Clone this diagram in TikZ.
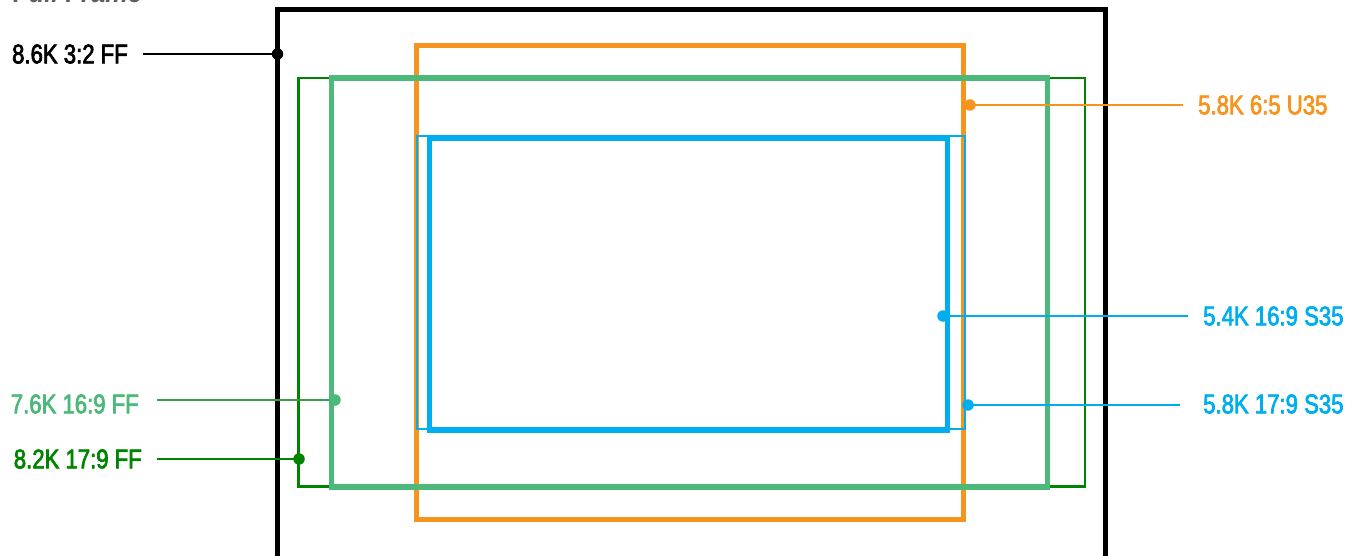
\documentclass[tikz,border=0pt]{standalone}
\usepackage{fontspec}
\setmainfont{Liberation Sans}[FakeStretch=0.82, FakeBold=2.6]
\newfontfamily\titlefont{Liberation Sans}[FakeStretch=0.85]
\definecolor{cblack}{RGB}{0,0,0}
\definecolor{cdkgreen}{RGB}{0,132,0}
\definecolor{cltgreen}{RGB}{76,184,122}
\definecolor{cmidgreen}{RGB}{52,160,70}
\definecolor{corange}{RGB}{247,148,29}
\definecolor{cblue}{RGB}{0,174,239}
\definecolor{cgray}{RGB}{95,95,95}
\begin{document}
\begin{tikzpicture}[x=1pt,y=-1pt,
  lbl/.style={font=\fontsize{27}{27}\selectfont, inner sep=0pt},
  dotc/.style={circle, fill, inner sep=0pt, minimum size=11.5pt},
  lead/.style={line width=2pt}]
\useasboundingbox (0,0) rectangle (1360,556);
\clip (0,0) rectangle (1360,556);
% partly visible title
\node[font=\titlefont\fontsize{30}{30}\selectfont\bfseries\itshape, text=cgray, anchor=base west, inner sep=0pt] (title) at (13,2.5) {Full Frame};
% frames
\draw[cblack, line width=5pt] (277.5,600) -- (277.5,10) -- (1105,10) -- (1105,600);
\draw[corange, line width=5pt] (416.5,45.5) rectangle (963.5,519);
\draw[cdkgreen, line width=2.5pt] (298.5,78) rectangle (1085,486.5);
\draw[cltgreen, line width=5.5pt] (331.5,78) rectangle (1047.5,487);
\draw[cblue, line width=2.5pt] (417,136) rectangle (965,429);
\draw[cblue, line width=5.5pt] (429.5,138.5) rectangle (947.5,430);
% anchor points on frames
\coordinate (p86) at (277.5,54);
\coordinate (p58u) at (970,105);
\coordinate (p54) at (943,316);
\coordinate (p58s) at (968,405);
\coordinate (p76) at (335,400);
\coordinate (p82) at (299,459);
% labels
\node[lbl, anchor=east, text=cblack] (l86) at (128,54) {8.6K 3:2 FF};
\node[lbl, anchor=east, text=cltgreen] (l76) at (139,404) {7.6K 16:9 FF};
\node[lbl, anchor=east, text=cdkgreen] (l82) at (142,459) {8.2K 17:9 FF};
\node[lbl, anchor=west, text=corange] (l58u) at (1198,105) {5.8K 6:5 U35};
\node[lbl, anchor=west, text=cblue] (l54) at (1203,316) {5.4K 16:9 S35};
\node[lbl, anchor=west, text=cblue] (l58s) at (1203,404) {5.8K 17:9 S35};
% leader start points
\coordinate (s86) at (143,54);
\coordinate (s76) at (157,400);
\coordinate (s82) at (157,459);
\coordinate (s58u) at (1183,105);
\coordinate (s54) at (1188,316);
\coordinate (s58s) at (1180,405);
% leaders
\draw[lead, cblack] (s86) -- (p86);
\node[dotc, fill=cblack] (d86) at (p86) {};
\draw[lead, cmidgreen] (s76) -- (p76);
\node[dotc, fill=cltgreen] (d76) at (p76) {};
\draw[lead, cdkgreen] (s82) -- (p82);
\node[dotc, fill=cdkgreen] (d82) at (p82) {};
\draw[lead, corange] (s58u) -- (p58u);
\node[dotc, fill=corange] (d58u) at (p58u) {};
\draw[lead, cblue] (s54) -- (p54);
\node[dotc, fill=cblue] (d54) at (p54) {};
\draw[lead, cblue] (s58s) -- (p58s);
\node[dotc, fill=cblue] (d58s) at (p58s) {};
\end{tikzpicture}
\end{document}
